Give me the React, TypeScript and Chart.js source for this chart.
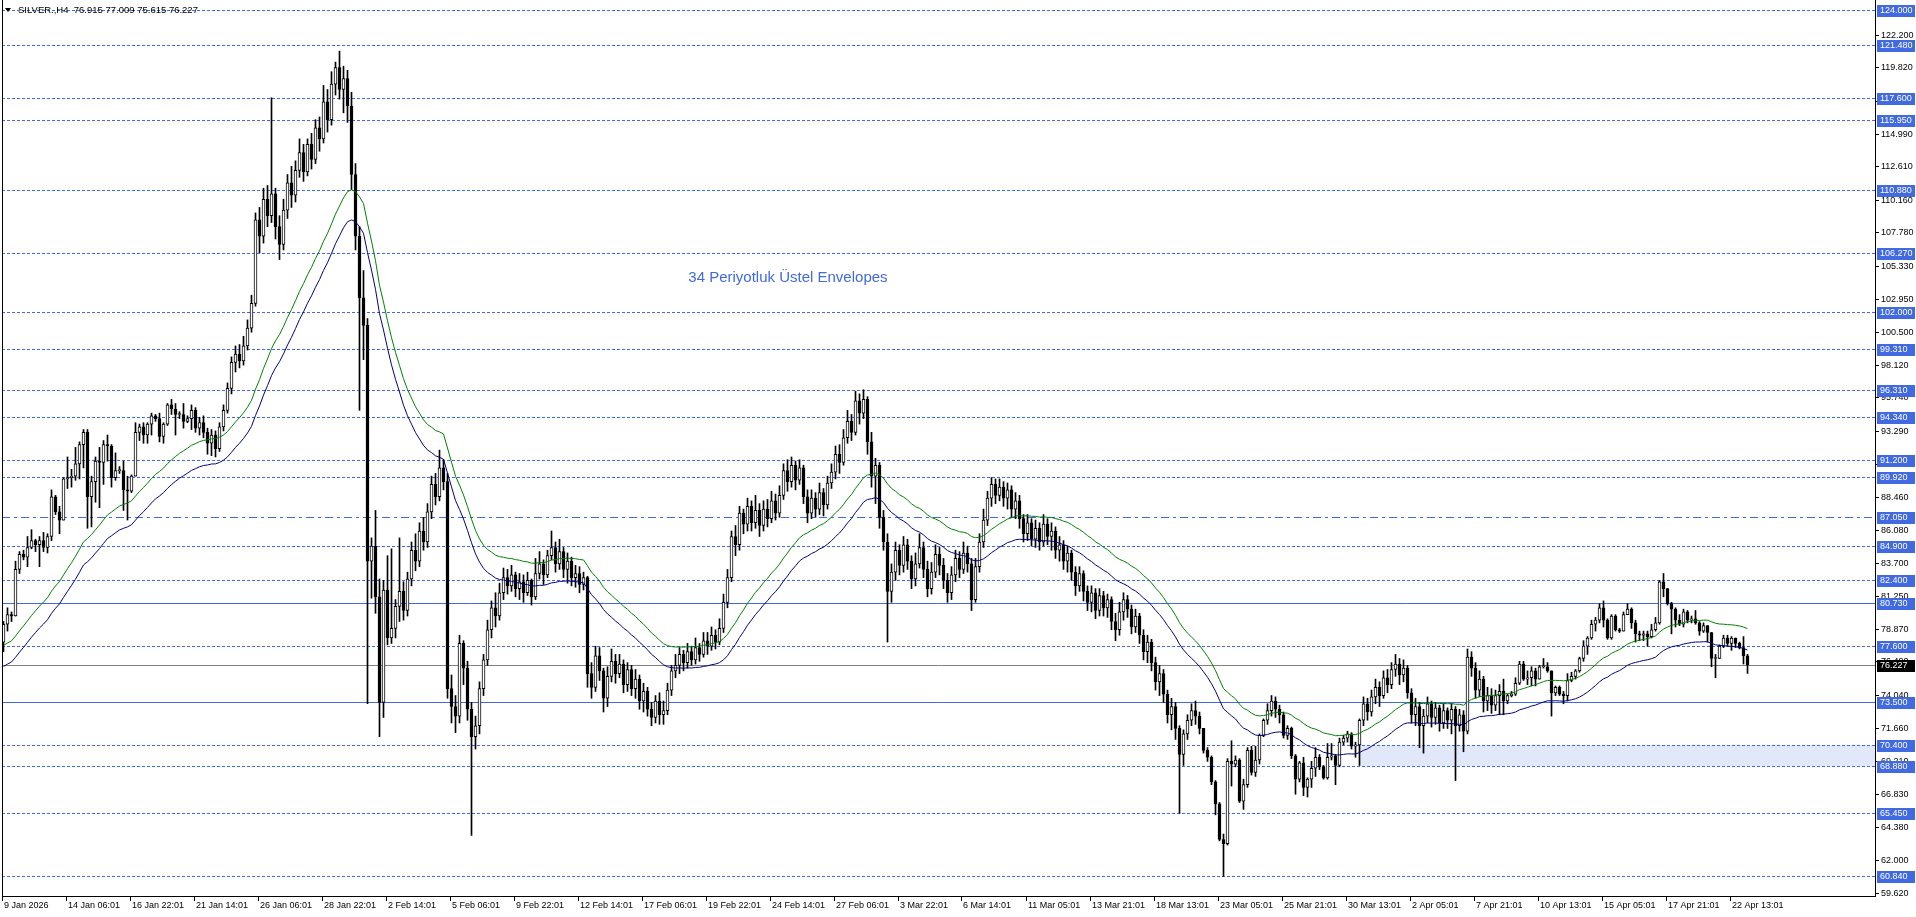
import React, { useEffect, useRef } from "react";
import { Chart, registerables } from "chart.js";

Chart.register(...registerables);

// ---------- data ----------
const firstOpen = 77.9;

const closes = [
  79.2, 79.9, 79.8, 83.2, 84.3, 84.1, 84.8, 85.3, 85.0, 85.3,
  84.8, 85.6, 88.5, 87.4, 86.8, 89.8, 89.9, 90.0, 90.9, 92.3,
  93.2, 88.5, 89.6, 91.1, 91.0, 92.3, 92.2, 89.9, 90.4, 90.4,
  89.0, 88.9, 90.0, 93.2, 93.6, 93.0, 93.8, 94.4, 94.2, 92.9,
  93.8, 95.2, 94.9, 94.5, 94.5, 94.0, 94.2, 94.8, 93.5, 93.9,
  93.2, 92.4, 93.0, 92.0, 93.6, 94.8, 96.4, 98.3, 98.9, 98.4,
  99.5, 100.8, 102.6, 108.7, 107.5, 110.2, 109.0, 110.6, 108.2, 106.9,
  109.4, 111.4, 110.5, 112.3, 113.6, 112.2, 114.2, 113.1, 115.4, 114.6,
  117.3, 116.0, 118.6, 119.8, 118.2, 119.0, 117.0, 112.0, 107.5, 103.0,
  101.0, 83.8, 84.9, 81.2, 73.5, 81.7, 78.2, 78.9, 80.5, 81.6,
  80.2, 82.5, 84.6, 83.8, 86.0, 85.2, 87.4, 89.4, 88.5, 90.6,
  89.6, 74.5, 73.2, 72.5, 77.8, 76.0, 73.0, 71.0, 71.8, 74.5,
  76.6, 78.8, 80.4, 79.8, 81.5, 82.6, 82.0, 82.8, 81.8, 82.3,
  81.5, 82.4, 81.2, 82.9, 83.6, 82.8, 84.2, 84.8, 83.6, 84.5,
  83.2, 83.8, 82.6, 82.9, 82.1, 82.6, 75.6, 74.6, 76.9, 75.8,
  73.8, 75.4, 76.5, 75.6, 76.3, 74.8, 75.9, 74.5, 75.2, 73.6,
  74.3, 73.0, 72.4, 73.6, 72.6, 72.9, 74.4, 75.8, 76.2, 77.0,
  76.4, 77.2, 76.6, 77.5, 77.0, 78.0, 77.6, 78.4, 77.9, 78.9,
  80.8, 82.6, 85.6, 85.0, 87.3, 86.5, 87.8, 86.6, 87.5, 86.4,
  87.6, 86.9, 88.2, 87.3, 88.6, 90.4, 89.6, 90.8, 89.7, 90.6,
  88.5, 87.3, 88.4, 87.6, 88.8, 87.9, 89.5, 90.3, 91.6, 91.0,
  92.8, 94.0, 93.2, 95.5, 94.6, 95.6, 92.5, 90.0, 90.8, 87.0,
  85.2, 81.6, 83.0, 84.6, 83.5, 85.0, 83.8, 82.5, 83.6, 84.8,
  83.2, 81.8, 83.0, 84.3, 83.5, 82.4, 81.5, 82.8, 84.0, 83.2,
  84.4, 83.6, 81.0, 83.4, 85.2, 86.8, 88.4, 89.4, 88.6, 89.2,
  88.4, 89.0, 87.6, 88.2, 86.9, 85.8, 86.6, 85.4, 86.2, 85.2,
  86.5, 85.6, 86.0, 84.6, 85.0, 83.8, 84.4, 83.0, 82.0, 82.9,
  81.6, 80.8, 81.5, 80.2, 81.3, 80.4, 81.0, 79.4, 78.8, 80.1,
  81.0, 80.3, 79.0, 79.8, 78.4, 77.2, 77.9, 76.4, 75.0, 75.6,
  74.1, 72.6, 73.2, 71.6, 69.7, 71.2, 72.2, 72.9, 72.5, 71.6,
  70.0, 69.5, 67.7, 66.1, 63.5, 63.2, 69.2, 69.0, 69.3, 66.3,
  67.5, 70.0, 68.4, 69.3, 71.1, 72.2, 72.9, 73.6, 73.0, 72.6,
  71.1, 71.6, 69.6, 67.9, 69.1, 67.3, 67.9, 68.7, 69.5, 68.8,
  68.0, 69.5, 69.6, 68.9, 70.6, 70.9, 71.2, 70.3, 70.4, 72.2,
  73.4, 72.8, 73.9, 74.6, 74.0, 75.3, 74.8, 75.9, 76.3, 75.5,
  76.0, 74.2, 72.6, 73.2, 71.8, 72.5, 73.4, 72.4, 73.1, 72.0,
  72.9, 72.2, 73.0, 71.8, 72.6, 71.4, 76.8, 76.0, 74.4, 75.2,
  73.6, 74.0, 73.3, 74.0, 74.3, 73.6, 74.0, 74.1, 74.9, 76.3,
  75.2, 75.3, 75.8, 75.2, 76.1, 76.1, 75.8, 74.2, 74.6, 74.1,
  74.0, 75.1, 75.4, 75.8, 76.7, 77.6, 78.2, 79.2, 79.5, 80.4,
  79.5, 78.2, 79.8, 78.8, 78.7, 79.9, 80.3, 79.3, 78.5, 78.4,
  78.5, 78.3, 78.8, 79.3, 82.3, 81.8, 80.7, 80.3, 79.5, 79.2,
  80.1, 79.5, 79.6, 79.3, 78.7, 79.1, 78.6, 76.7, 76.7, 77.6,
  78.2, 77.8, 78.2, 77.8, 77.5, 76.9, 76.227,
];

const highs = [
  79.4, 80.4, 80.1, 83.8, 84.5, 84.6, 85.6, 86.1, 85.4, 85.6,
  85.9, 85.8, 89.0, 88.6, 87.8, 89.9, 91.4, 90.5, 92.1, 92.5,
  93.4, 93.4, 90.0, 91.4, 92.1, 92.6, 93.0, 92.3, 91.7, 90.7,
  91.1, 90.0, 90.1, 93.9, 93.8, 93.9, 93.9, 94.6, 94.5, 94.6,
  93.9, 95.3, 95.6, 95.3, 94.7, 95.3, 94.4, 95.2, 95.0, 94.3,
  94.4, 93.5, 93.4, 93.3, 93.9, 95.2, 96.8, 98.7, 99.5, 99.6,
  100.2, 101.4, 103.2, 109.2, 109.6, 111.0, 111.2, 117.6, 111.0, 109.0,
  110.2, 112.0, 112.6, 113.0, 114.6, 114.2, 114.6, 115.0, 116.0, 116.2,
  118.5, 118.2, 119.5, 120.2, 121.0, 119.9, 119.6, 118.0, 112.8, 108.2,
  105.0, 101.5, 85.5, 87.5, 82.5, 82.4, 84.2, 84.7, 81.0, 85.5,
  82.3, 83.0, 85.2, 85.8, 86.6, 87.0, 88.0, 90.0, 90.2, 91.9,
  91.2, 90.2, 75.5, 74.0, 78.4, 78.0, 76.5, 73.5, 72.5, 75.0,
  77.0, 79.5, 80.9, 81.5, 82.2, 83.3, 83.2, 83.5, 83.0, 82.9,
  82.8, 83.0, 82.5, 84.0, 84.5, 83.9, 84.6, 86.0, 85.2, 85.4,
  84.8, 84.4, 84.1, 83.5, 83.4, 83.0, 82.7, 76.4, 77.6, 77.5,
  76.0, 76.1, 77.4, 77.0, 77.0, 76.6, 76.4, 76.2, 75.9, 75.5,
  74.9, 74.6, 73.5, 74.0, 74.2, 73.6, 74.9, 76.2, 77.0, 77.5,
  77.3, 77.8, 77.6, 78.2, 77.8, 78.6, 78.6, 79.0, 78.8, 79.6,
  81.4, 83.2, 86.0, 86.4, 87.8, 87.6, 88.4, 88.2, 88.6, 88.0,
  88.2, 88.3, 88.9, 88.7, 89.3, 90.9, 91.2, 91.4, 91.1, 91.2,
  90.8, 89.0, 89.0, 88.8, 89.5, 89.1, 90.0, 90.9, 92.2, 92.3,
  93.4, 94.8, 94.5, 96.2, 96.0, 96.3, 95.8, 93.2, 91.3, 91.0,
  87.5, 85.8, 83.6, 85.2, 85.0, 85.6, 85.4, 84.2, 84.4, 85.8,
  85.2, 83.8, 83.7, 85.0, 84.8, 84.0, 82.9, 83.4, 84.6, 84.5,
  85.2, 84.9, 84.0, 84.0, 85.8, 87.6, 88.9, 89.9, 89.8, 89.8,
  89.6, 89.5, 89.3, 88.8, 88.6, 87.2, 87.2, 86.9, 86.8, 86.6,
  87.2, 86.9, 86.6, 86.3, 85.6, 85.3, 84.9, 84.6, 83.4, 83.4,
  83.1, 82.0, 82.0, 81.8, 81.8, 81.6, 81.4, 81.2, 80.0, 80.8,
  81.5, 81.3, 80.6, 80.3, 80.0, 78.8, 78.4, 78.1, 76.8, 76.2,
  75.9, 74.4, 73.8, 73.5, 71.8, 71.5, 72.6, 73.4, 73.6, 72.8,
  71.6, 70.2, 69.6, 67.8, 66.2, 63.9, 69.4, 70.7, 69.6, 69.4,
  67.9, 70.2, 70.3, 70.3, 71.2, 72.3, 73.4, 74.0, 73.9, 73.3,
  72.8, 71.8, 71.7, 69.7, 69.2, 69.5, 68.0, 69.2, 70.2, 69.7,
  68.9, 70.5, 70.5, 69.7, 70.9, 71.1, 71.4, 71.3, 70.6, 72.3,
  73.9, 73.8, 74.4, 75.2, 75.0, 75.8, 75.9, 76.4, 77.0, 76.7,
  76.6, 76.2, 74.5, 73.8, 73.5, 73.0, 73.9, 73.6, 73.5, 73.3,
  73.4, 73.1, 73.4, 73.2, 73.0, 72.9, 77.4, 77.2, 76.4, 75.8,
  75.4, 74.6, 74.5, 74.4, 74.8, 75.2, 74.1, 74.3, 75.3, 76.5,
  76.5, 75.8, 76.1, 76.0, 76.2, 76.7, 76.4, 75.8, 74.7, 74.7,
  74.3, 75.6, 75.7, 75.9, 76.8, 78.0, 78.3, 79.5, 79.7, 80.7,
  80.9, 79.6, 79.9, 79.9, 78.9, 80.1, 80.7, 80.4, 79.5, 78.7,
  78.7, 78.7, 79.2, 79.7, 82.4, 82.9, 81.7, 80.8, 80.4, 79.9,
  80.3, 80.2, 79.8, 80.2, 79.4, 79.3, 79.0, 78.6, 77.0, 77.7,
  78.4, 78.4, 78.3, 78.2, 77.9, 78.3, 77.009,
];

const lows = [
  77.2, 78.7, 79.4, 79.8, 82.9, 83.9, 83.4, 84.7, 84.5, 83.4,
  84.5, 84.4, 85.3, 87.2, 85.8, 86.9, 89.1, 89.2, 89.7, 89.8,
  90.6, 86.2, 86.3, 88.1, 87.7, 89.4, 91.1, 89.2, 89.7, 90.2,
  87.5, 86.8, 88.8, 90.9, 92.6, 92.4, 92.4, 93.0, 94.0, 92.5,
  92.4, 93.7, 94.5, 93.0, 94.2, 93.5, 93.9, 93.4, 93.2, 93.0,
  92.8, 91.6, 91.5, 91.4, 91.8, 93.3, 94.6, 96.0, 97.6, 97.9,
  98.1, 99.2, 100.5, 102.4, 106.3, 107.0, 108.2, 108.5, 107.3, 105.8,
  106.5, 108.8, 109.6, 110.0, 111.8, 111.5, 111.9, 112.4, 112.8, 113.7,
  114.3, 115.1, 115.6, 117.8, 117.5, 116.5, 115.8, 110.9, 106.5, 94.8,
  98.5, 73.4, 81.1, 80.0, 71.0, 72.4, 77.7, 77.8, 78.2, 79.4,
  79.5, 79.8, 82.0, 83.1, 83.4, 84.6, 84.8, 86.9, 87.9, 88.2,
  89.0, 73.8, 72.0, 71.3, 72.0, 74.8, 72.2, 63.8, 70.1, 71.2,
  74.0, 76.2, 78.2, 79.0, 79.5, 81.0, 81.4, 81.6, 81.2, 81.0,
  80.8, 81.3, 80.6, 81.0, 82.5, 82.1, 82.6, 83.9, 83.0, 83.2,
  82.6, 82.2, 82.0, 81.9, 81.5, 81.7, 74.6, 73.8, 74.3, 75.1,
  72.8, 73.2, 75.0, 74.9, 75.3, 74.2, 74.3, 74.0, 73.8, 73.0,
  72.8, 72.5, 71.8, 72.0, 71.9, 71.9, 72.6, 74.0, 75.3, 75.6,
  75.8, 76.0, 76.2, 76.3, 76.5, 76.8, 77.0, 77.3, 77.4, 77.7,
  78.6, 80.4, 82.3, 84.2, 84.6, 85.8, 86.0, 86.0, 86.2, 85.6,
  86.0, 86.3, 86.6, 86.8, 87.0, 88.3, 88.9, 89.2, 89.0, 89.4,
  88.0, 86.6, 86.9, 87.0, 87.2, 87.1, 87.6, 89.1, 89.8, 90.2,
  90.8, 92.4, 92.6, 93.0, 93.8, 94.2, 91.6, 89.2, 88.0, 86.2,
  84.6, 77.9, 80.8, 82.4, 82.8, 83.0, 83.2, 81.8, 82.0, 83.3,
  82.6, 81.2, 81.4, 82.6, 82.8, 81.8, 80.8, 81.0, 82.3, 82.6,
  82.9, 83.0, 80.2, 80.8, 83.0, 84.8, 86.4, 87.8, 88.0, 88.2,
  87.8, 87.6, 87.0, 86.9, 86.2, 85.2, 85.3, 84.9, 84.8, 84.6,
  84.9, 85.0, 84.6, 84.0, 83.8, 83.2, 83.0, 82.4, 81.3, 81.6,
  80.9, 80.2, 80.1, 79.6, 79.8, 79.8, 79.7, 78.8, 78.0, 78.4,
  79.5, 79.7, 78.5, 78.6, 77.8, 76.6, 76.4, 75.8, 74.4, 74.0,
  73.5, 72.0, 71.5, 70.8, 65.4, 68.9, 70.8, 71.8, 71.9, 71.2,
  69.8, 69.2, 67.5, 65.3, 63.4, 60.8, 63.1, 67.4, 68.8, 66.2,
  65.7, 67.3, 68.2, 68.1, 69.0, 71.0, 71.9, 72.5, 72.4, 72.0,
  70.9, 70.8, 69.4, 66.8, 67.7, 66.7, 66.6, 67.3, 68.1, 68.6,
  67.9, 67.9, 69.3, 67.5, 68.8, 70.4, 70.6, 70.1, 69.5, 68.9,
  71.8, 72.2, 72.5, 73.4, 73.2, 73.8, 74.2, 74.5, 75.4, 74.8,
  75.0, 73.8, 72.0, 71.8, 70.2, 69.8, 72.0, 71.7, 71.9, 71.4,
  71.6, 71.6, 71.2, 67.8, 71.4, 69.9, 71.2, 75.4, 73.8, 73.9,
  72.8, 72.9, 72.7, 72.9, 72.6, 72.6, 73.4, 73.9, 74.0, 74.8,
  75.1, 74.8, 74.7, 74.7, 75.3, 76.0, 75.7, 72.5, 74.0, 74.0,
  73.4, 73.6, 75.0, 75.2, 75.7, 76.5, 77.0, 78.1, 78.7, 79.3,
  79.0, 78.1, 78.1, 78.7, 78.6, 78.8, 79.9, 78.9, 77.9, 78.0,
  78.0, 77.6, 78.2, 78.7, 79.2, 81.2, 80.6, 78.5, 79.0, 79.1,
  79.0, 79.3, 79.3, 79.2, 78.4, 78.6, 77.9, 76.1, 75.3, 76.7,
  77.5, 77.6, 77.3, 77.5, 77.4, 76.3, 75.615,
];

const emaPeriod = 34;
const emaSeed = 76.75;
const envelopeDeviation = 0.01;

const dashedLevels = [124.0, 121.48, 117.6, 115.95, 110.88, 106.27, 102.0, 99.31, 96.31, 94.34, 91.2, 89.92, 84.9, 82.4, 77.6, 70.4, 68.88, 65.45, 60.84];
const dashDotLevels = [87.05];
const solidLevels = [80.73, 73.5];
const lastPrice = 76.227;
const zoneRange = [70.4, 68.88];
const zoneStartBar = 339;

const priceTicks = [
  "122.200", "119.820", "117.370", "114.990", "112.610", "110.160", "107.780", "105.330", "102.950",
  "100.500", "98.120", "95.740", "93.290", "90.910", "88.460", "86.080", "83.700", "81.250",
  "78.870", "76.490", "74.040", "71.660", "69.210", "66.830", "64.380", "62.000", "59.620",
];

const timeLabels = [
  "9 Jan 2026", "14 Jan 06:01", "16 Jan 22:01", "21 Jan 14:01", "26 Jan 06:01", "28 Jan 22:01",
  "2 Feb 14:01", "5 Feb 06:01", "9 Feb 22:01", "12 Feb 14:01", "17 Feb 06:01", "19 Feb 22:01",
  "24 Feb 14:01", "27 Feb 06:01", "3 Mar 22:01", "6 Mar 14:01", "11 Mar 05:01", "13 Mar 21:01",
  "18 Mar 13:01", "23 Mar 05:01", "25 Mar 21:01", "30 Mar 13:01", "2 Apr 05:01", "7 Apr 21:01",
  "10 Apr 13:01", "15 Apr 05:01", "17 Apr 21:01", "22 Apr 13:01",
];
const barsPerTimeLabel = 16;

const headerText = "SILVER.,H4  76.915 77.009 75.615 76.227";
const noteText = "34 Periyotluk \u00dcstel Envelopes";
const noteBar = 171.2;
const notePrice = 104.45;

// ---------- view settings ----------
const W = 1916;
const H = 917;
const PAD = { left: 2, right: 41, top: 0, bottom: 21 };
const PX_PER_BAR = 4;
const xMin = -0.375;
const xMax = xMin + (W - PAD.left - PAD.right) / PX_PER_BAR;
const yMax = 124.73;
const yMin = 59.38;

const BLUE = "#4169E1";
const GREEN = "#008000";
const NAVY = "#000080";
const FONT = '9px "Liberation Sans", Arial, sans-serif';

const overlayPlugin = {
  id: "mtOverlay",
  beforeDatasetsDraw(chart: any) {
    const { ctx, chartArea: a } = chart;
    const x = chart.scales.x;
    const y = chart.scales.y;
    ctx.save();
    ctx.beginPath();
    ctx.rect(a.left, a.top, a.right - a.left, a.bottom - a.top);
    ctx.clip();

    const zx = Math.floor(x.getPixelForValue(zoneStartBar));
    const zy1 = Math.round(y.getPixelForValue(zoneRange[0]));
    const zy2 = Math.round(y.getPixelForValue(zoneRange[1]));
    ctx.fillStyle = "#E1E8F9";
    ctx.fillRect(zx, zy1, a.right - zx, zy2 - zy1);

    const hline = (v: number, dash: number[], color: string) => {
      const py = Math.round(y.getPixelForValue(v)) + 0.5;
      ctx.setLineDash(dash);
      ctx.strokeStyle = color;
      ctx.lineWidth = 1;
      ctx.beginPath();
      ctx.moveTo(a.left, py);
      ctx.lineTo(a.right, py);
      ctx.stroke();
    };
    dashedLevels.forEach((v) => hline(v, [3, 2], BLUE));
    dashDotLevels.forEach((v) => hline(v, [8, 4, 3, 4], BLUE));
    solidLevels.forEach((v) => hline(v, [], BLUE));
    hline(lastPrice, [], "#808080");
    ctx.setLineDash([]);

    ctx.fillStyle = BLUE;
    ctx.font = '15px "Liberation Sans", Arial, sans-serif';
    ctx.textBaseline = "middle";
    ctx.textAlign = "left";
    ctx.fillText(noteText, x.getPixelForValue(noteBar), y.getPixelForValue(notePrice));
    ctx.restore();
  },
  afterDraw(chart: any) {
    const { ctx, chartArea: a } = chart;
    const x = chart.scales.x;
    const y = chart.scales.y;
    ctx.save();
    ctx.fillStyle = "#000";
    const L = Math.round(a.left);
    const R = Math.round(a.right);
    const B = Math.round(a.bottom);
    ctx.fillRect(L, 0, 1, B + 1);
    ctx.fillRect(R, 0, 1, B + 1);
    ctx.fillRect(L, B, R - L + 1, 1);

    ctx.font = FONT;
    ctx.textBaseline = "middle";
    ctx.textAlign = "left";

    // price scale ticks
    priceTicks.forEach((t) => {
      const py = Math.round(y.getPixelForValue(parseFloat(t)));
      ctx.fillStyle = "#000";
      ctx.fillRect(R + 1, py, 3, 1);
      ctx.fillText(t, R + 6, py + 1);
    });

    // level labels
    const box = (v: number, bg: string) => {
      const py = Math.round(y.getPixelForValue(v));
      ctx.fillStyle = bg;
      ctx.fillRect(R + 2, py - 5, 38, 12);
      ctx.fillStyle = "#fff";
      ctx.fillText(v.toFixed(3), R + 5, py + 1);
    };
    [...dashedLevels, ...dashDotLevels, ...solidLevels].forEach((v) => box(v, BLUE));
    box(lastPrice, "#000");

    // time scale
    ctx.fillStyle = "#000";
    timeLabels.forEach((t, k) => {
      const px = Math.round(x.getPixelForValue(k * barsPerTimeLabel)) - 2;
      ctx.fillRect(px, B + 1, 1, 4);
      ctx.fillText(t, px + 2, B + 10);
    });

    // header
    ctx.beginPath();
    ctx.moveTo(5, 8);
    ctx.lineTo(11, 8);
    ctx.lineTo(8, 12);
    ctx.closePath();
    ctx.fill();
    ctx.font = '9.5px "Liberation Sans", Arial, sans-serif';
    ctx.fillText(headerText, 18, 10);
    ctx.restore();
  },
};

export default function App() {
  const ref = useRef<HTMLCanvasElement | null>(null);

  useEffect(() => {
    if (!ref.current) return;
    const opens = closes.map((c, i) => (i === 0 ? firstOpen : closes[i - 1]));
    const alpha = 2 / (emaPeriod + 1);
    let e = emaSeed;
    const upper: { x: number; y: number }[] = [];
    const lower: { x: number; y: number }[] = [];
    closes.forEach((c, i) => {
      e = e + alpha * (c - e);
      upper.push({ x: i, y: e * (1 + envelopeDeviation) });
      lower.push({ x: i, y: e * (1 - envelopeDeviation) });
    });
    const wickData = closes.map((c, i) => ({
      x: i,
      y: [Math.min(lows[i], opens[i], c), Math.max(highs[i], opens[i], c)],
    }));
    const bodyData = closes.map((c, i) => ({
      x: i,
      y: [Math.min(opens[i], c), Math.max(opens[i], c)],
    }));
    const bodyColors = closes.map((c, i) => (c >= opens[i] ? "#ffffff" : "#000000"));

    const chart = new Chart(ref.current, {
      type: "line",
      data: {
        datasets: [
          {
            type: "line",
            data: upper,
            borderColor: GREEN,
            borderWidth: 1,
            pointRadius: 0,
            tension: 0,
            order: 1,
          } as any,
          {
            type: "line",
            data: lower,
            borderColor: NAVY,
            borderWidth: 1,
            pointRadius: 0,
            tension: 0,
            order: 1,
          } as any,
          {
            type: "bar",
            data: bodyData,
            backgroundColor: bodyColors,
            borderColor: "#000000",
            borderWidth: 1,
            borderSkipped: false,
            barThickness: 3,
            minBarLength: 1,
            grouped: false,
            order: 2,
          } as any,
          {
            type: "bar",
            data: wickData,
            backgroundColor: "#000000",
            borderWidth: 0,
            barThickness: 1,
            grouped: false,
            order: 3,
          } as any,
        ],
      },
      options: {
        animation: false,
        responsive: false,
        devicePixelRatio: 1,
        events: [],
        layout: { padding: PAD },
        scales: {
          x: { type: "linear", min: xMin, max: xMax, display: false, offset: false },
          y: { type: "linear", min: yMin, max: yMax, display: false },
        },
        plugins: { legend: { display: false }, tooltip: { enabled: false } },
      } as any,
      plugins: [overlayPlugin],
    });
    return () => chart.destroy();
  }, []);

  return (
    <canvas
      ref={ref}
      width={W}
      height={H}
      style={{ position: "fixed", left: 0, top: 0, display: "block", background: "#ffffff" }}
    />
  );
}
